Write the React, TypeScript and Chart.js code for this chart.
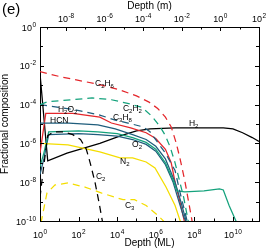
import React, { useEffect, useRef } from "react";
import { Chart, registerables } from "chart.js";

Chart.register(...registerables);

// Axis ranges (log10)
const X_MIN_LOG = 0;
const X_MAX_LOG = 11.35;
const ML_TO_M_LOG = -9.35; // log10 of metres per monolayer (top axis)
const Y_MIN_LOG = -10;
const Y_MAX_LOG = 0;

// Tick labels (exponents of 10)
const bottomTickExps = [0, 2, 4, 6, 8, 10];
const topTickExps = [-8, -6, -4, -2, 0, 2];
const leftTickExps = [0, -2, -4, -6, -8, -10];

// Series: log10(depth in ML), log10(fractional composition)
const c2h6X = [0, 1, 2, 3, 4, 5, 5.65, 6.1, 6.5, 6.8, 7.05, 7.25, 7.5, 7.7, 7.9];
const c2h6Y = [-2.3, -2.55, -2.75, -2.95, -3.2, -3.55, -3.87, -4.2, -4.65, -5.15, -5.95, -6.75, -7.9, -9.0, -10.1];

const c2h2X = [0, 0.4, 1.7, 2.7, 3.7, 4.6, 5.3, 5.8, 6.2, 6.5, 6.75, 7.0, 7.25, 7.45, 7.7];
const c2h2Y = [-4.0, -3.85, -3.75, -3.65, -3.75, -3.95, -4.15, -4.6, -5.1, -5.6, -6.2, -7.0, -8.0, -8.8, -10.1];

const c3h8X = [0, 1.9, 3.1, 3.9, 4.56, 5.34, 5.7, 6.1, 6.5, 7.0, 7.25, 7.5, 7.65];
const c3h8Y = [-4.0, -4.28, -4.54, -4.8, -4.95, -5.15, -5.4, -5.95, -6.5, -7.4, -8.5, -9.5, -10.1];

const h2o2X = [0, 0.3, 1.7, 3.1, 3.7, 4.7, 5.5, 6.0, 6.5, 6.8, 7.0, 7.25, 7.5];
const h2o2Y = [-6.5, -4.45, -4.45, -4.65, -4.95, -5.2, -5.45, -5.75, -6.3, -7.0, -8.0, -9.0, -10.1];

const hcnX = [0, 1.5, 3, 3.9, 4.8, 5.5, 6.0, 6.5, 7.0, 7.3, 7.6];
const hcnY = [-4.95, -4.95, -5.05, -5.25, -5.55, -5.8, -6.15, -6.8, -8.0, -9.0, -10.1];

const o2X = [0, 0.2, 0.45, 2, 3, 4, 4.8, 5.5, 6, 6.5, 6.9, 7.1, 7.5, 8.5, 9.3, 9.5, 9.8, 10.2];
const o2Y = [-7.2, -6.5, -5.4, -5.35, -5.4, -5.5, -5.7, -5.95, -6.3, -7.0, -7.9, -8.45, -8.5, -8.45, -8.35, -8.4, -9.2, -10.1];

const pairX = [0, 0.2, 0.45, 2, 3, 4, 4.8, 5.5, 6, 6.5, 6.9, 7.2, 7.45, 7.6];
const pairY = [-7.6, -6.8, -5.55, -5.5, -5.55, -5.62, -5.8, -6.05, -6.4, -7.1, -8.0, -9.0, -9.8, -10.1];

const h2X = [0, 0.4, 1.4, 3.1, 4.2, 5, 5.7, 7, 9.5, 10, 10.5, 11, 11.35];
const h2Y = [-2.4, -6.9, -6.5, -6.0, -5.6, -5.35, -5.25, -5.2, -5.2, -5.25, -5.45, -5.7, -5.9];

const c2X = [0, 0.15, 0.4, 0.7, 1.2, 1.7, 2.1, 2.4, 2.6, 2.85, 3.05, 3.25];
const c2Y = [-8.8, -7.5, -5.6, -5.4, -5.4, -5.55, -5.8, -6.3, -7.0, -8.0, -9.0, -10.1];

const n2X = [0, 1.45, 3.1, 4.15, 4.8, 5.5, 5.96, 6.53, 7.0, 7.3];
const n2Y = [-6.0, -6.08, -6.44, -6.75, -6.75, -6.96, -7.27, -8.25, -9.2, -10.1];

const c3X = [0.05, 0.36, 0.78, 1.45, 2.33, 3.2, 4.3, 4.9, 5.5, 6.1, 6.5];
const c3Y = [-10.1, -8.56, -8.14, -8.04, -8.25, -8.56, -8.9, -8.9, -9.2, -9.7, -10.1];

// Species labels: text and anchor (log10 depth, log10 fraction)
const labelTexts = ["C_2H_6", "H_2O_2", "HCN", "C_2H_2", "C_3H_8", "O_2", "H_2", "N_2", "C_2", "C_3"];
const labelX = [2.85, 0.93, 0.52, 4.3, 3.78, 4.77, 7.72, 4.15, 2.9, 4.4];
const labelY = [-2.89, -4.25, -4.79, -4.2, -4.64, -6.03, -4.95, -6.9, -7.68, -9.18];

const RED = "#e4262b";
const GREEN = "#14a27c";
const BLUE = "#1f5d7c";
const YELLOW = "#f4dd00";
const BLACK = "#000000";
const FONT = "'Liberation Sans', Arial, Helvetica, sans-serif";

function toPoints(xs: number[], ys: number[]) {
  return xs.map((lx, i) => ({ x: Math.pow(10, lx), y: Math.pow(10, ys[i]) }));
}

function ds(label: string, xs: number[], ys: number[], color: string, dashed: boolean) {
  return {
    label,
    data: toPoints(xs, ys),
    borderColor: color,
    backgroundColor: color,
    borderWidth: 1.25,
    borderDash: dashed ? [7, 5] : [],
    pointRadius: 0,
    pointHoverRadius: 0,
    fill: false,
    tension: 0,
  };
}

function drawPow(ctx: CanvasRenderingContext2D, exp: number, x: number, baseY: number, align: "center" | "right") {
  const base = "10";
  const ex = String(exp);
  ctx.font = `9px ${FONT}`;
  const wb = ctx.measureText(base).width;
  ctx.font = `6.5px ${FONT}`;
  const we = ctx.measureText(ex).width;
  const total = wb + we + 0.5;
  const x0 = align === "center" ? x - total / 2 : x - total;
  ctx.textAlign = "left";
  ctx.textBaseline = "alphabetic";
  ctx.font = `9px ${FONT}`;
  ctx.fillText(base, x0, baseY);
  ctx.font = `6.5px ${FONT}`;
  ctx.fillText(ex, x0 + wb + 0.5, baseY - 4);
}

function drawChem(ctx: CanvasRenderingContext2D, text: string, x: number, midY: number) {
  let cx = x;
  const baseY = midY + 3;
  ctx.textAlign = "left";
  ctx.textBaseline = "alphabetic";
  for (let i = 0; i < text.length; i++) {
    const ch = text[i];
    if (ch === "_" && i + 1 < text.length) {
      const s = text[i + 1];
      ctx.font = `6px ${FONT}`;
      ctx.fillText(s, cx, baseY + 2);
      cx += ctx.measureText(s).width;
      i++;
    } else {
      ctx.font = `8.5px ${FONT}`;
      ctx.fillText(ch, cx, baseY);
      cx += ctx.measureText(ch).width;
    }
  }
}

const decorPlugin = {
  id: "decor",
  afterDraw(chart: any) {
    const ctx: CanvasRenderingContext2D = chart.ctx;
    const { left, right, top, bottom } = chart.chartArea;
    const sx = chart.scales.x;
    const sx2 = chart.scales.x2;
    const sy = chart.scales.y;
    ctx.save();
    ctx.strokeStyle = BLACK;
    ctx.fillStyle = BLACK;
    ctx.lineWidth = 1;
    const line = (x1: number, y1: number, x2: number, y2: number) => {
      ctx.beginPath();
      ctx.moveTo(x1, y1);
      ctx.lineTo(x2, y2);
      ctx.stroke();
    };
    // bottom ticks
    for (let e = Math.ceil(X_MIN_LOG); e <= Math.floor(X_MAX_LOG); e++) {
      const px = Math.round(sx.getPixelForValue(Math.pow(10, e))) + 0.5;
      const len = bottomTickExps.includes(e) ? 4 : 2.5;
      line(px, bottom, px, bottom - len);
    }
    // top ticks
    for (let e = Math.ceil(X_MIN_LOG + ML_TO_M_LOG); e <= Math.floor(X_MAX_LOG + ML_TO_M_LOG + 0.001); e++) {
      const px = Math.round(sx2.getPixelForValue(Math.pow(10, e))) + 0.5;
      const len = topTickExps.includes(e) ? 4 : 2.5;
      line(px, top, px, top + len);
    }
    // left / right ticks
    for (let e = Y_MIN_LOG; e <= Y_MAX_LOG; e++) {
      const py = Math.round(sy.getPixelForValue(Math.pow(10, e))) + 0.5;
      const len = leftTickExps.includes(e) ? 4 : 3;
      line(left, py, left + len, py);
      line(right, py, right - len, py);
    }
    // tick labels
    bottomTickExps.forEach((e) => {
      drawPow(ctx, e, sx.getPixelForValue(Math.pow(10, e)), bottom + 16.5, "center");
    });
    topTickExps.forEach((e) => {
      drawPow(ctx, e, sx2.getPixelForValue(Math.pow(10, e)), top - 5, "center");
    });
    leftTickExps.forEach((e) => {
      drawPow(ctx, e, left - 4, sy.getPixelForValue(Math.pow(10, e)) + 3.5, "right");
    });
    // axis titles
    ctx.font = `10px ${FONT}`;
    ctx.textAlign = "center";
    ctx.textBaseline = "middle";
    ctx.fillText("Depth (ML)", (left + right) / 2, 243);
    ctx.fillText("Depth (m)", (left + right) / 2, 6);
    ctx.save();
    ctx.translate(5.5, (top + bottom) / 2);
    ctx.rotate(-Math.PI / 2);
    ctx.fillText("Fractional composition", 0, 0);
    ctx.restore();
    // panel label
    ctx.font = `15px ${FONT}`;
    ctx.textAlign = "left";
    ctx.textBaseline = "middle";
    ctx.fillText("(e)", 2, 10);
    // species labels
    labelTexts.forEach((t, i) => {
      const px = sx.getPixelForValue(Math.pow(10, labelX[i]));
      const py = sy.getPixelForValue(Math.pow(10, labelY[i]));
      drawChem(ctx, t, px, py);
    });
    ctx.restore();
  },
};

export default function App() {
  const ref = useRef<HTMLCanvasElement | null>(null);
  useEffect(() => {
    document.body.style.margin = "0";
    const canvas = ref.current;
    if (!canvas) return;
    const chart = new Chart(canvas, {
      type: "line",
      data: {
        datasets: [
          ds("C2H6", c2h6X, c2h6Y, RED, true),
          ds("C2H2", c2h2X, c2h2Y, GREEN, true),
          ds("C3H8", c3h8X, c3h8Y, BLUE, true),
          ds("C2", c2X, c2Y, BLACK, true),
          ds("C3", c3X, c3Y, YELLOW, true),
          ds("N2", n2X, n2Y, YELLOW, false),
          ds("O2", o2X, o2Y, GREEN, false),
          ds("O2b", pairX, pairY, BLUE, false),
          ds("HCN", hcnX, hcnY, BLUE, false),
          ds("H2O2", h2o2X, h2o2Y, RED, false),
          ds("H2", h2X, h2Y, BLACK, false),
        ] as any,
      },
      options: {
        responsive: false,
        animation: false,
        devicePixelRatio: 1,
        layout: { padding: 0 },
        plugins: { legend: { display: false }, tooltip: { enabled: false } },
        events: [],
        scales: {
          x: {
            type: "logarithmic",
            position: "bottom",
            min: Math.pow(10, X_MIN_LOG),
            max: Math.pow(10, X_MAX_LOG),
            ticks: { display: false },
            grid: { display: false },
            border: { display: true, color: BLACK, width: 1 },
            afterFit: (s: any) => { s.height = 29; },
          },
          x2: {
            type: "logarithmic",
            position: "top",
            min: Math.pow(10, X_MIN_LOG + ML_TO_M_LOG),
            max: Math.pow(10, X_MAX_LOG + ML_TO_M_LOG),
            ticks: { display: false },
            grid: { display: false },
            border: { display: true, color: BLACK, width: 1 },
            afterFit: (s: any) => { s.height = 27; },
          },
          y: {
            type: "logarithmic",
            position: "left",
            min: Math.pow(10, Y_MIN_LOG),
            max: Math.pow(10, Y_MAX_LOG),
            ticks: { display: false },
            grid: { display: false },
            border: { display: true, color: BLACK, width: 1 },
            afterFit: (s: any) => { s.width = 40; },
          },
          y2: {
            type: "logarithmic",
            position: "right",
            min: Math.pow(10, Y_MIN_LOG),
            max: Math.pow(10, Y_MAX_LOG),
            ticks: { display: false },
            grid: { display: false },
            border: { display: true, color: BLACK, width: 1 },
            afterFit: (s: any) => { s.width = 7; },
          },
        },
      } as any,
      plugins: [decorPlugin],
    });
    return () => chart.destroy();
  }, []);
  return (
    <div style={{ position: "absolute", left: 0, top: 0, width: 266, height: 250, background: "#fff" }}>
      <canvas ref={ref} width={266} height={250} style={{ display: "block", width: 266, height: 250 }} />
    </div>
  );
}
